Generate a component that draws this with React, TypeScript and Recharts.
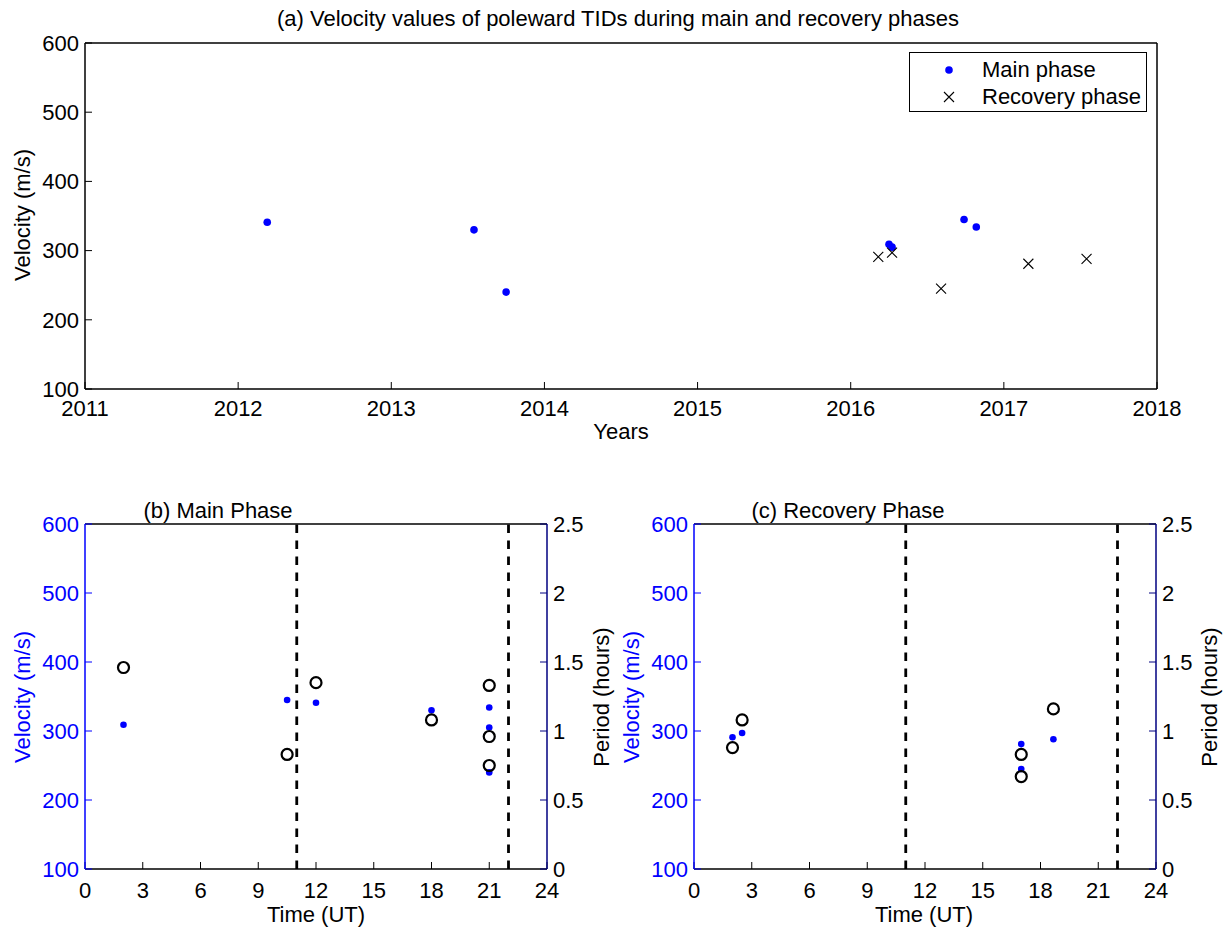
import React from 'react';
import { ScatterChart, Scatter, XAxis, YAxis, ReferenceLine } from 'recharts';

const FONT = '"Liberation Sans", Arial, Helvetica, sans-serif';
const FONT_SIZE = 22;
const BLUE = '#0000ff';
const NAVY = '#000080';
const BLACK = '#000000';

// Axis ticks
const YEAR_TICKS = [2011, 2012, 2013, 2014, 2015, 2016, 2017, 2018];
const VELOCITY_TICKS = [100, 200, 300, 400, 500, 600];
const UT_TICKS = [0, 3, 6, 9, 12, 15, 18, 21, 24];
const PERIOD_TICKS = [0, 0.5, 1, 1.5, 2, 2.5];
const PHASE_BOUNDS_UT = [11, 22];

// (a) event dates (decimal years) and velocities
const mainYears = [2012.19, 2013.54, 2013.75, 2016.25, 2016.27, 2016.74, 2016.82];
const mainVelocity = [341, 330, 240, 309, 305, 345, 334];
const recoveryYears = [2016.18, 2016.27, 2016.59, 2017.16, 2017.54];
const recoveryVelocity = [291, 297, 245, 281, 288];

// (b) main phase: onset time (UT), velocity, period
const mainUT = [2, 10.5, 12, 18, 21, 21, 21];
const mainUTVelocity = [309, 345, 341, 330, 334, 305, 240];
const mainPeriod = [1.46, 0.83, 1.35, 1.08, 1.33, 0.96, 0.75];

// (c) recovery phase: onset time (UT), velocity, period
const recoveryUT = [2, 2.5, 17, 17, 18.67];
const recoveryUTVelocity = [291, 297, 281, 245, 288];
const recoveryPeriod = [0.88, 1.08, 0.83, 0.67, 1.16];

const toPoints = (xs: number[], ys: number[]) => xs.map((x, i) => ({ x, y: ys[i] }));

const tickStyle = (fill: string) => ({ fill, fontSize: FONT_SIZE, fontFamily: FONT });

const dotShape = (r: number) => (props: any) => (
  <circle cx={props.cx} cy={props.cy} r={r} fill={BLUE} stroke="none" />
);

const crossShape = (props: any) => {
  const { cx, cy } = props;
  const s = 5;
  return (
    <path
      d={`M${cx - s},${cy - s}L${cx + s},${cy + s}M${cx - s},${cy + s}L${cx + s},${cy - s}`}
      stroke={BLACK}
      strokeWidth={1.1}
      fill="none"
    />
  );
};

const ringShape = (props: any) => (
  <circle cx={props.cx} cy={props.cy} r={5.5} fill="none" stroke={BLACK} strokeWidth={2.2} />
);

type CaptionProps = { x: number; y: number; text: string; color?: string; rotate?: boolean };

const Caption = ({ x, y, text, color = BLACK, rotate = false }: CaptionProps) => (
  <div
    style={{
      position: 'absolute',
      left: x,
      top: y,
      transform: `translate(-50%, -50%)${rotate ? ' rotate(-90deg)' : ''}`,
      whiteSpace: 'nowrap',
      fontFamily: FONT,
      fontSize: FONT_SIZE,
      lineHeight: 1,
      color,
    }}
  >
    {text}
  </div>
);

const AXIS_W = 1.5;
const TICK_IN = -7;

function YearPanel() {
  return (
    <div style={{ position: 'absolute', left: 0, top: 0 }}>
      <ScatterChart width={1226} height={470} margin={{ top: 0, right: 0, bottom: 0, left: 0 }}>
        <XAxis
          xAxisId="bottom"
          type="number"
          dataKey="x"
          domain={[2011, 2018]}
          ticks={YEAR_TICKS}
          interval={0}
          height={81}
          tickSize={TICK_IN}
          tickMargin={18}
          tick={tickStyle(BLACK)}
          axisLine={{ stroke: BLACK, strokeWidth: AXIS_W }}
          tickLine={{ stroke: BLACK }}
        />
        <XAxis
          xAxisId="top"
          orientation="top"
          type="number"
          domain={[2011, 2018]}
          ticks={YEAR_TICKS}
          interval={0}
          height={43}
          tickSize={TICK_IN}
          tick={false}
          axisLine={{ stroke: BLACK, strokeWidth: AXIS_W }}
          tickLine={{ stroke: BLACK }}
        />
        <YAxis
          yAxisId="left"
          type="number"
          dataKey="y"
          domain={[100, 600]}
          ticks={VELOCITY_TICKS}
          interval={0}
          width={85}
          tickSize={TICK_IN}
          tickMargin={13}
          tick={tickStyle(BLACK)}
          axisLine={{ stroke: BLACK, strokeWidth: AXIS_W }}
          tickLine={{ stroke: BLACK }}
        />
        <YAxis
          yAxisId="right"
          orientation="right"
          type="number"
          domain={[100, 600]}
          ticks={VELOCITY_TICKS}
          interval={0}
          width={69}
          tickSize={TICK_IN}
          tick={false}
          axisLine={{ stroke: BLACK, strokeWidth: AXIS_W }}
          tickLine={{ stroke: BLACK }}
        />
        <Scatter
          name="Main phase"
          xAxisId="bottom"
          yAxisId="left"
          data={toPoints(mainYears, mainVelocity)}
          shape={dotShape(3.8)}
          isAnimationActive={false}
        />
        <Scatter
          name="Recovery phase"
          xAxisId="bottom"
          yAxisId="left"
          data={toPoints(recoveryYears, recoveryVelocity)}
          shape={crossShape}
          isAnimationActive={false}
        />
      </ScatterChart>
    </div>
  );
}

type UTPanelProps = {
  left: number;
  plotLeft: number;
  rightWidth: number;
  ut: number[];
  velocity: number[];
  period: number[];
};

function UTPanel({ left, plotLeft, rightWidth, ut, velocity, period }: UTPanelProps) {
  return (
    <div style={{ position: 'absolute', left, top: 480 }}>
      <ScatterChart width={613} height={448} margin={{ top: 0, right: 0, bottom: 0, left: 0 }}>
        <XAxis
          xAxisId="bottom"
          type="number"
          dataKey="x"
          domain={[0, 24]}
          ticks={UT_TICKS}
          interval={0}
          height={59}
          tickSize={TICK_IN}
          tickMargin={20}
          tick={tickStyle(BLACK)}
          axisLine={{ stroke: BLACK, strokeWidth: AXIS_W }}
          tickLine={{ stroke: BLACK }}
        />
        <XAxis
          xAxisId="top"
          orientation="top"
          type="number"
          domain={[0, 24]}
          ticks={UT_TICKS}
          interval={0}
          height={44}
          tickSize={TICK_IN}
          tick={false}
          axisLine={{ stroke: BLACK, strokeWidth: AXIS_W }}
          tickLine={{ stroke: BLACK }}
        />
        <YAxis
          yAxisId="velocity"
          type="number"
          dataKey="y"
          domain={[100, 600]}
          ticks={VELOCITY_TICKS}
          interval={0}
          width={plotLeft}
          tickSize={TICK_IN}
          tickMargin={13}
          tick={tickStyle(BLUE)}
          axisLine={{ stroke: BLUE, strokeWidth: AXIS_W }}
          tickLine={{ stroke: BLUE }}
        />
        <YAxis
          yAxisId="period"
          orientation="right"
          type="number"
          dataKey="y"
          domain={[0, 2.5]}
          ticks={PERIOD_TICKS}
          interval={0}
          width={rightWidth}
          tickSize={TICK_IN}
          tickMargin={13}
          tick={tickStyle(BLACK)}
          axisLine={{ stroke: NAVY, strokeWidth: AXIS_W }}
          tickLine={{ stroke: NAVY }}
        />
        {PHASE_BOUNDS_UT.map((b) => (
          <ReferenceLine
            key={b}
            xAxisId="bottom"
            yAxisId="velocity"
            x={b}
            stroke={BLACK}
            strokeWidth={2.8}
            strokeDasharray="8.5 7.5"
          />
        ))}
        <Scatter
          name="Velocity"
          xAxisId="bottom"
          yAxisId="velocity"
          data={toPoints(ut, velocity)}
          shape={dotShape(3.3)}
          isAnimationActive={false}
        />
        <Scatter
          name="Period"
          xAxisId="bottom"
          yAxisId="period"
          data={toPoints(ut, period)}
          shape={ringShape}
          isAnimationActive={false}
        />
      </ScatterChart>
    </div>
  );
}

function LegendBox() {
  return (
    <div
      style={{
        position: 'absolute',
        left: 909,
        top: 52,
        width: 236,
        height: 58,
        border: '1.5px solid #000',
        background: '#fff',
        fontFamily: FONT,
        fontSize: FONT_SIZE,
        lineHeight: 1,
      }}
    >
      <svg width={60} height={58} style={{ position: 'absolute', left: 0, top: 0 }}>
        <circle cx={39} cy={17} r={3.8} fill={BLUE} />
        <path d="M34,39L44,49M34,49L44,39" stroke={BLACK} strokeWidth={1.1} fill="none" />
      </svg>
      <div style={{ position: 'absolute', left: 72, top: 6, whiteSpace: 'nowrap' }}>Main phase</div>
      <div style={{ position: 'absolute', left: 72, top: 33, whiteSpace: 'nowrap' }}>Recovery phase</div>
    </div>
  );
}

export default function App() {
  return (
    <div
      style={{
        position: 'absolute',
        left: 0,
        top: 0,
        width: 1226,
        height: 928,
        background: '#fff',
        overflow: 'hidden',
      }}
    >
      <YearPanel />
      <UTPanel
        left={0}
        plotLeft={85}
        rightWidth={66}
        ut={mainUT}
        velocity={mainUTVelocity}
        period={mainPeriod}
      />
      <UTPanel
        left={613}
        plotLeft={81}
        rightWidth={70}
        ut={recoveryUT}
        velocity={recoveryUTVelocity}
        period={recoveryPeriod}
      />
      <LegendBox />

      <Caption x={618} y={19} text="(a) Velocity values of poleward TIDs during main and recovery phases" />
      <Caption x={23} y={215} text="Velocity (m/s)" rotate />
      <Caption x={621} y={432} text="Years" />

      <Caption x={218} y={511} text="(b) Main Phase" />
      <Caption x={23} y={697} text="Velocity (m/s)" color={BLUE} rotate />
      <Caption x={602} y={697} text="Period (hours)" rotate />
      <Caption x={316} y={915} text="Time (UT)" />

      <Caption x={848} y={511} text="(c) Recovery Phase" />
      <Caption x={632} y={697} text="Velocity (m/s)" color={BLUE} rotate />
      <Caption x={1210} y={697} text="Period (hours)" rotate />
      <Caption x={924} y={915} text="Time (UT)" />
    </div>
  );
}
